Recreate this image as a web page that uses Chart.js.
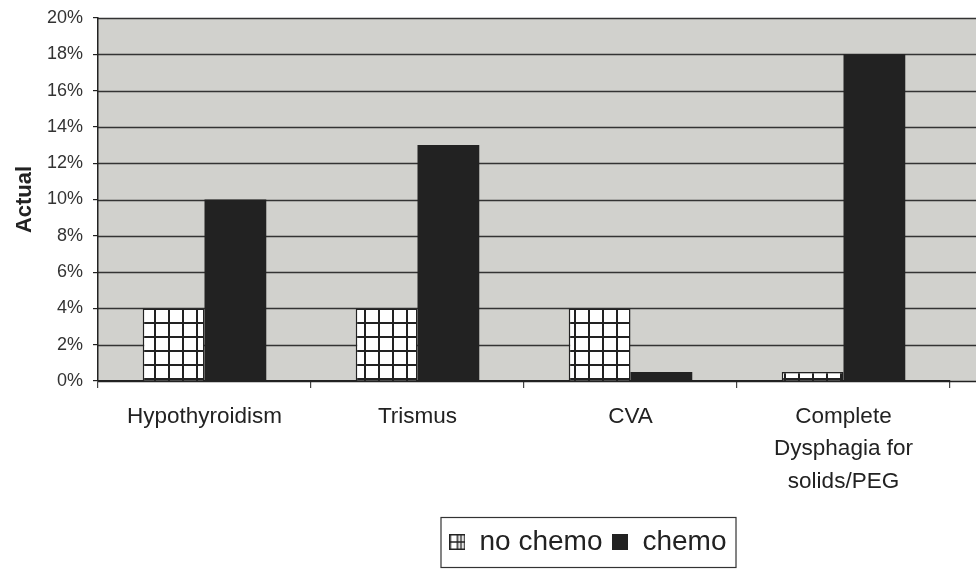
<!DOCTYPE html>
<html>
<head>
<meta charset="utf-8">
<script src="https://cdn.jsdelivr.net/npm/chart.js@4/dist/chart.umd.min.js"></script>
<style>
  html, body { margin: 0; padding: 0; background: #fff; }
  #wrap { width: 976px; height: 570px; }
</style>
</head>
<body>
<div id="wrap"><canvas id="grafico" width="976" height="570"></canvas></div>
<script>
// datos (porcentaje)
const categorias = ["Hypothyroidism", "Trismus", "CVA", ["Complete", "Dysphagia for", "solids/PEG"]];
const sinQuimio = [4, 4, 4, 0.5];
const conQuimio = [10, 13, 0.5, 18];
const etiquetasSeries = ["no chemo", "chemo"];

const FUENTE = "'Liberation Sans', Arial, Helvetica, sans-serif";
const GRIS = "#d1d1cd";
const LINEA = "#333333";

// trama de cuadrícula para "no chemo"
function crearTrama() {
  const c = document.createElement("canvas");
  c.width = 14; c.height = 14;
  const g = c.getContext("2d");
  g.fillStyle = "#ffffff";
  g.fillRect(0, 0, 14, 14);
  g.fillStyle = "#222222";
  g.fillRect(0, 0, 2, 14);
  g.fillRect(0, 0, 14, 2);
  return g.createPattern(c, "repeat");
}
const trama = crearTrama();

// iconos de la leyenda
function iconoCuadricula() {
  const c = document.createElement("canvas");
  c.width = 16; c.height = 16;
  const g = c.getContext("2d");
  g.fillStyle = "#ffffff";
  g.fillRect(0, 0, 16, 16);
  g.strokeStyle = "#222";
  g.lineWidth = 1.5;
  g.strokeRect(0.75, 0.75, 14.5, 14.5);
  g.beginPath();
  g.moveTo(8, 0); g.lineTo(8, 16);
  g.moveTo(0, 8); g.lineTo(16, 8);
  g.moveTo(11.5, 0); g.lineTo(11.5, 16);
  g.stroke();
  return c;
}
function iconoLleno() {
  const c = document.createElement("canvas");
  c.width = 16; c.height = 16;
  const g = c.getContext("2d");
  g.fillStyle = "#222";
  g.fillRect(0, 0, 16, 16);
  return c;
}

// fondo gris y líneas de cuadrícula que llegan hasta el borde derecho
const fondoPlugin = {
  id: "fondo",
  afterLayout(chart) {
    // la leyenda del original está desplazada a la derecha
    chart.legend.left += 113;
    chart.legend.right += 113;
  },
  beforeDraw(chart) {
    const { ctx, chartArea, scales } = chart;
    const derecha = chart.width;
    ctx.save();
    ctx.fillStyle = GRIS;
    ctx.fillRect(chartArea.left, chartArea.top, derecha - chartArea.left, chartArea.bottom - chartArea.top);
    ctx.strokeStyle = LINEA;
    ctx.lineWidth = 1.5;
    scales.y.ticks.forEach(t => {
      if (t.value === 0) return;
      const y = Math.round(scales.y.getPixelForValue(t.value)) + 0.5;
      ctx.beginPath();
      ctx.moveTo(chartArea.left, y);
      ctx.lineTo(derecha, y);
      ctx.stroke();
    });
    ctx.restore();
  },
  afterDraw(chart) {
    const { ctx, chartArea } = chart;
    ctx.save();
    // eje x hasta el borde
    ctx.strokeStyle = "#222";
    ctx.lineWidth = 1.5;
    ctx.beginPath();
    ctx.moveTo(chartArea.left, chartArea.bottom + 0.5);
    ctx.lineTo(chart.width, chartArea.bottom + 0.5);
    ctx.stroke();
    // marco de la leyenda
    const cajas = chart.legend.legendHitBoxes;
    if (cajas && cajas.length) {
      const izq = Math.min(...cajas.map(b => b.left)) - 9;
      const der = Math.max(...cajas.map(b => b.left + b.width)) + 9;
      const arr = Math.min(...cajas.map(b => b.top)) - 11;
      const aba = Math.max(...cajas.map(b => b.top + b.height)) + 11;
      ctx.strokeStyle = "#333";
      ctx.lineWidth = 1.2;
      ctx.strokeRect(izq + 0.5, arr + 0.5, der - izq, aba - arr);
    }
    ctx.restore();
  }
};

new Chart(document.getElementById("grafico").getContext("2d"), {
  type: "bar",
  data: {
    labels: categorias,
    datasets: [
      {
        label: etiquetasSeries[0],
        data: sinQuimio,
        backgroundColor: trama,
        borderColor: "#222",
        borderWidth: 1.5,
        pointStyle: iconoCuadricula(),
      },
      {
        label: etiquetasSeries[1],
        data: conQuimio,
        backgroundColor: "#222222",
        borderWidth: 0,
        pointStyle: iconoLleno(),
      },
    ],
  },
  options: {
    responsive: false,
    animation: false,
    layout: { padding: { top: 18, right: 26, bottom: 4, left: 0 } },
    datasets: { bar: { categoryPercentage: 0.58, barPercentage: 1 } },
    scales: {
      x: {
        border: { display: true, color: "#222", width: 1.5 },
        grid: { offset: true, drawOnChartArea: false, drawTicks: true, tickLength: 7, color: "#444", lineWidth: 1.2 },
        ticks: { color: "#222", padding: 12, font: { family: FUENTE, size: 22.5, lineHeight: 1.45 }, maxRotation: 0 },
        afterFit(scale) { scale.height = 137; },
      },
      y: {
        min: 0,
        max: 20,
        border: { display: true, color: "#222", width: 1.5 },
        grid: { drawOnChartArea: false, drawTicks: true, tickLength: 5, color: "#222", lineWidth: 1.2 },
        ticks: { stepSize: 2, color: "#333", padding: 10, font: { family: FUENTE, size: 18 }, callback: v => v + "%" },
        title: { display: true, text: "Actual", color: "#222", padding: { top: 12, bottom: 4 }, font: { family: FUENTE, size: 22, weight: "bold" } },
        afterFit(scale) { scale.width = 98; scale.paddingTop = 0; scale.paddingBottom = 0; },
      },
    },
    plugins: {
      legend: {
        position: "bottom",
        labels: { color: "#222", usePointStyle: true, boxWidth: 16, boxHeight: 16, padding: 10, font: { family: FUENTE, size: 28 } },
      },
      tooltip: { enabled: false },
    },
  },
  plugins: [fondoPlugin],
});
</script>
</body>
</html>
